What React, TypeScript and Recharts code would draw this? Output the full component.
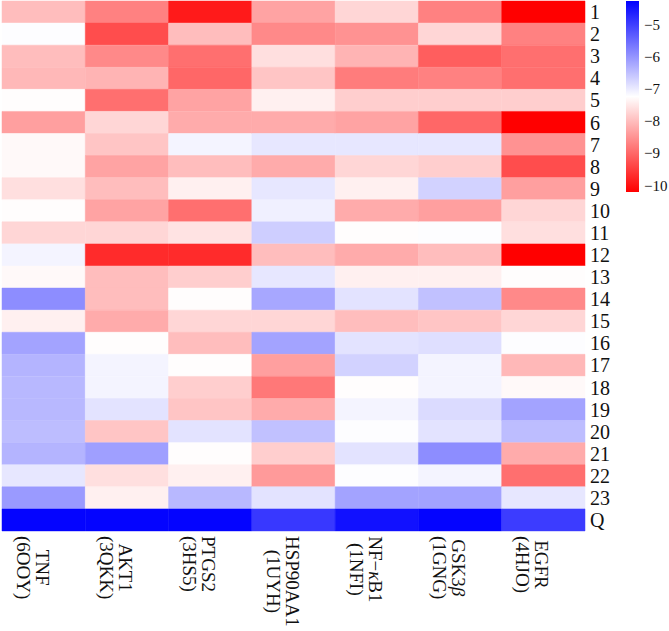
import React from "react";
import { BarChart, Bar, Cell, XAxis, YAxis } from "recharts";

// docking scores per target, rows 1..23 then Q
const tnf = [-8.0, -7.2, -8.0, -8.05, -7.25, -8.35, -7.3, -7.3, -7.6, -7.25, -7.7, -7.1, -7.3, -5.9, -7.4, -6.15, -6.35, -6.4, -6.4, -6.45, -6.35, -6.95, -6.05, -4.3];
const akt1 = [-8.7, -9.3, -8.6, -8.1, -8.9, -7.7, -7.9, -8.3, -8.0, -8.3, -7.7, -9.7, -8.0, -8.0, -8.2, -7.25, -7.1, -7.1, -6.9, -7.9, -6.1, -7.6, -7.4, -4.3];
const ptgs2 = [-9.9, -8.0, -8.9, -9.0, -8.3, -8.2, -7.1, -8.0, -7.4, -8.9, -7.55, -9.7, -7.8, -7.25, -7.7, -8.0, -7.25, -7.8, -7.9, -6.9, -7.25, -7.4, -6.4, -4.3];
const hsp90aa1 = [-8.3, -8.6, -7.6, -7.9, -7.4, -8.2, -6.95, -8.2, -6.95, -7.05, -6.65, -8.0, -6.95, -6.2, -7.7, -6.15, -8.35, -8.8, -8.2, -6.5, -7.8, -8.4, -6.9, -4.9];
const nfkb1 = [-7.7, -8.5, -8.1, -8.75, -7.8, -8.3, -6.95, -7.7, -7.4, -8.2, -7.25, -8.2, -7.4, -6.9, -8.0, -6.9, -6.7, -7.25, -7.1, -7.2, -6.9, -7.2, -6.15, -4.45];
const gsk3b = [-8.7, -7.7, -9.1, -8.7, -7.8, -9.0, -6.95, -7.8, -6.7, -8.35, -7.2, -8.0, -7.4, -6.5, -7.9, -6.85, -7.1, -7.1, -6.8, -6.9, -5.9, -7.1, -6.15, -4.3];
const egfr = [-10.2, -8.7, -8.9, -8.9, -7.8, -10.2, -8.5, -9.3, -8.35, -7.7, -7.6, -10.2, -7.25, -8.6, -7.7, -7.2, -8.05, -7.3, -6.15, -6.45, -8.2, -8.9, -6.95, -4.95];

const columns = [tnf, akt1, ptgs2, hsp90aa1, nfkb1, gsk3b, egfr];
const targetLabels = [
  ["TNF", "(6OOY)"],
  ["AKT1", "(3QKK)"],
  ["PTGS2", "(3HS5)"],
  ["HSP90AA1", "(1UYH)"],
  ["NF−κB1", "(1NFI)"],
  ["GSK3β", "(1GNG)"],
  ["EGFR", "(4HJO)"],
];
const rowLabels = [
  "1", "2", "3", "4", "5", "6", "7", "8", "9", "10", "11", "12",
  "13", "14", "15", "16", "17", "18", "19", "20", "21", "22", "23", "Q",
];
const barTicks = [-5, -6, -7, -8, -9, -10];

const VMIN = -10.2;
const VMAX = -4.25;
const VMID = (VMIN + VMAX) / 2;

const FONT = '"Liberation Serif", "Times New Roman", serif';

function colorFor(v: number) {
  if (v <= VMID) {
    const t = Math.max(0, (v - VMIN) / (VMID - VMIN));
    const c = Math.round(255 * t);
    return `rgb(255,${c},${c})`;
  }
  const t = Math.min(1, (v - VMID) / (VMAX - VMID));
  const c = Math.round(255 * (1 - t));
  return `rgb(${c},${c},255)`;
}

let ctx: CanvasRenderingContext2D | null = null;
function textWidth(s: string, size: number) {
  if (!ctx) ctx = document.createElement("canvas").getContext("2d");
  if (!ctx) return s.length * size * 0.55;
  ctx.font = `${size}px ${FONT}`;
  return ctx.measureText(s).width;
}

// one stacked segment per target, each a unit wide
const data = rowLabels.map((name) => {
  const row: Record<string, string | number> = { name };
  columns.forEach((_, i) => (row[`c${i}`] = 1));
  return row;
});

function renderLine(s: string) {
  // Greek letters set in italic
  const parts = s.split(/([κβ])/);
  return parts.map((p, i) =>
    p === "κ" || p === "β" ? (
      <tspan key={i} fontStyle="italic">{p}</tspan>
    ) : (
      <tspan key={i}>{p}</tspan>
    )
  );
}

const TargetTick = (props: any) => {
  const { x, y, payload } = props;
  const idx = Math.floor(payload.value);
  const lines = targetLabels[idx];
  if (!lines) return null;
  const size = 19;
  const longest = Math.max(...lines.map((l) => textWidth(l, size)));
  const mid = 5 + longest / 2;
  return (
    <g transform={`translate(${x - 1},${y}) rotate(90)`}>
      {lines.map((l, i) => (
        <text key={i} x={mid} y={i * 19} textAnchor="middle" dominantBaseline="central"
          fontFamily={FONT} fontSize={size} fill="#111">
          {renderLine(l)}
        </text>
      ))}
    </g>
  );
};

function ColorBar() {
  const x = 626, top = 1, h = 191, w = 13;
  const yOf = (v: number) => top + ((VMAX - v) / (VMAX - VMIN)) * h;
  return (
    <svg width={669} height={631} style={{ position: "absolute", left: 0, top: 0, pointerEvents: "none" }}>
      <defs>
        <linearGradient id="scale" x1="0" y1="0" x2="0" y2="1">
          <stop offset="0" stopColor="rgb(0,0,255)" />
          <stop offset="0.5" stopColor="#ffffff" />
          <stop offset="1" stopColor="rgb(255,0,0)" />
        </linearGradient>
      </defs>
      <rect x={x} y={top} width={w} height={h} fill="url(#scale)" />
      {barTicks.map((t) => (
        <text key={t} x={644} y={yOf(t)} dominantBaseline="central" fontFamily={FONT} fontSize={15} fill="#111">
          {`−${Math.abs(t)}`}
        </text>
      ))}
    </svg>
  );
}

export default function App() {
  return (
    <div style={{ position: "absolute", left: 0, top: 0, width: 669, height: 631, background: "#fff" }}>
      <BarChart
        width={669}
        height={631}
        data={data}
        layout="vertical"
        margin={{ top: 1, right: 0, bottom: 0, left: 2 }}
        barCategoryGap={0}
        barGap={0}
      >
        <XAxis
          type="number"
          domain={[0, 7]}
          ticks={[0.5, 1.5, 2.5, 3.5, 4.5, 5.5, 6.5]}
          height={100}
          axisLine={false}
          tickLine={false}
          tickSize={0}
          tickMargin={0}
          interval={0}
          tick={<TargetTick />}
        />
        <YAxis
          type="category"
          dataKey="name"
          orientation="right"
          width={84}
          axisLine={false}
          tickLine={false}
          tickSize={0}
          tickMargin={5}
          interval={0}
          tick={{ fontFamily: FONT, fontSize: 20, fill: "#111", textAnchor: "start" }}
        />
        {columns.map((vals, i) => (
          <Bar key={i} dataKey={`c${i}`} stackId="s" isAnimationActive={false}>
            {vals.map((v, r) => (
              <Cell key={r} fill={colorFor(v)} stroke={colorFor(v)} strokeWidth={0.5} />
            ))}
          </Bar>
        ))}
      </BarChart>
      <ColorBar />
    </div>
  );
}
